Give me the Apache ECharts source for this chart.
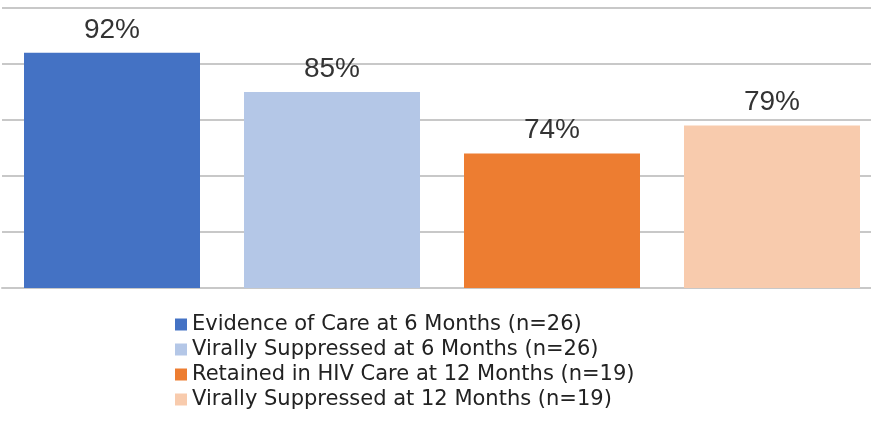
<!DOCTYPE html>
<html>
<head>
  <meta charset="utf-8">
  <title>Care and viral suppression</title>
  <script src="https://cdn.jsdelivr.net/npm/echarts@6/dist/echarts.min.js"></script>
</head>
<body style="margin:0;background:#fff">
  <div id="main" style="width: 871px;height:425px;"></div>
  <script type="text/javascript">
    // data
    var categories = ['c1', 'c2', 'c3', 'c4'];
    var seriesNames = [
      'Evidence of Care at 6 Months (n=26)',
      'Virally Suppressed at 6 Months (n=26)',
      'Retained in HIV Care at 12 Months (n=19)',
      'Virally Suppressed at 12 Months (n=19)'
    ];
    var values = [92, 85, 74, 79];
    var colors = ['#4472C4', '#B4C7E7', '#ED7D31', '#F8CBAD'];

    var myChart = echarts.init(document.getElementById('main'));

    // one series per bar so the legend shows each colour
    var series = seriesNames.map(function (name, i) {
      var d = categories.map(function (c, j) { return j === i ? values[i] : '-'; });
      return {
        name: name,
        type: 'bar',
        stack: 'all',
        barWidth: '80%',
        data: d,
        itemStyle: { color: colors[i] },
        label: {
          show: true,
          position: 'top',
          distance: 9,
          formatter: '{c}%',
          color: '#333',
          fontSize: 28,
          fontFamily: 'Liberation Sans'
        }
      };
    });

    var option = {
      animation: false,
      color: colors,
      grid: { left: 2, width: 880, top: 8, bottom: 137, outerBoundsMode: 'none' },
      legend: {
        orient: 'vertical',
        left: 170,
        top: 309,
        itemWidth: 12,
        itemHeight: 12,
        itemGap: 4,
        icon: 'rect',
        textStyle: { fontSize: 21, color: '#222', fontFamily: 'DejaVu Sans' },
        data: seriesNames
      },
      xAxis: {
        type: 'category',
        data: categories,
        axisLabel: { show: false },
        axisTick: { show: false },
        axisLine: { lineStyle: { color: '#c8c8c8', width: 2 } }
      },
      yAxis: {
        type: 'value',
        min: 50,
        max: 100,
        interval: 10,
        axisLabel: { show: false },
        splitLine: { lineStyle: { color: '#c8c8c8', width: 2 } }
      },
      series: series
    };

    myChart.setOption(option);
  </script>
</body>
</html>
